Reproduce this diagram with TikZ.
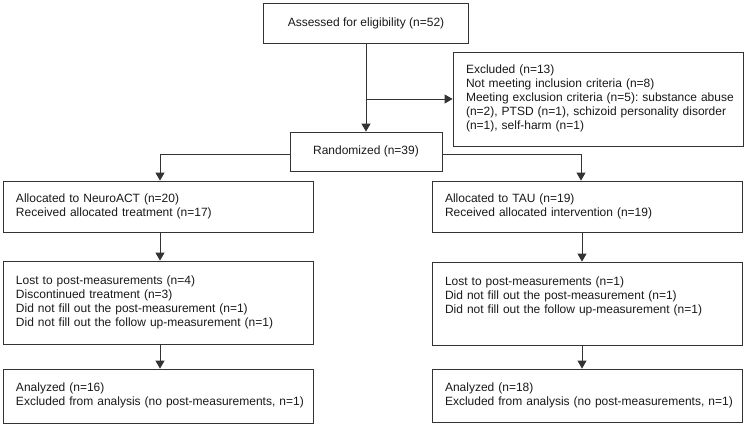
\documentclass[tikz,border=0pt]{standalone}
\usepackage{fontspec}
\setmainfont{Liberation Sans}
\usetikzlibrary{positioning, arrows.meta, calc}
\newcommand{\boxlines}[1]{\begin{tabular}{@{}l@{}}#1\end{tabular}}
\frenchspacing

\begin{document}
\begin{tikzpicture}[x=1pt, y=-1pt,
    flowbox/.style={draw=black!80, line width=0.8pt, rectangle, inner xsep=13pt, inner ysep=0pt,
      align=left, text=black!90, font=\fontsize{12}{14}\selectfont\frenchspacing},
    flowarr/.style={draw=black!80, line width=0.8pt, -{Triangle[width=9pt,length=8pt]}}]
  \useasboundingbox (0,0) rectangle (746,425);

  % enrollment
  \node[flowbox, align=center, minimum width=205pt, minimum height=40pt] (assess) at (366,23)
    {Assessed for eligibility (n=52)};
  \node[flowbox, text width=264pt, minimum height=94pt] (excl) at (598,99)
    {\boxlines{Excluded (n=13)\\
     Not meeting inclusion criteria (n=8)\\
     Meeting exclusion criteria (n=5): substance abuse\\
     (n=2), PTSD (n=1), schizoid personality disorder\\
     (n=1), self-harm (n=1)}};
  \node[flowbox, align=center, minimum width=152pt, minimum height=39pt] (rand) at (366,151.5)
    {Randomized (n=39)};

  % allocation
  \node[flowbox, text width=284pt, minimum height=51pt] (allocL) at (158,206.5)
    {\boxlines{Allocated to NeuroACT (n=20)\\
     Received allocated treatment (n=17)}};
  \node[flowbox, text width=284pt, minimum height=51pt] (allocR) at (587,206.5)
    {\boxlines{Allocated to TAU (n=19)\\
     Received allocated intervention (n=19)}};

  % follow-up
  \node[flowbox, text width=284pt, minimum height=83pt] (lostL) at (158,302.5)
    {\boxlines{Lost to post-measurements (n=4)\\
     Discontinued treatment (n=3)\\
     Did not fill out the post-measurement (n=1)\\
     Did not fill out the follow up-measurement (n=1)}};
  \node[flowbox, text width=284pt, minimum height=83pt] (lostR) at (587,303.5)
    {\boxlines{Lost to post-measurements (n=1)\\
     Did not fill out the post-measurement (n=1)\\
     Did not fill out the follow up-measurement (n=1)\\
     \mbox{}}};

  % analysis
  \node[flowbox, text width=284pt, minimum height=54pt] (anaL) at (158,396)
    {\boxlines{Analyzed (n=16)\\
     Excluded from analysis (no post-measurements, n=1)}};
  \node[flowbox, text width=284pt, minimum height=53pt] (anaR) at (587,395.5)
    {\boxlines{Analyzed (n=18)\\
     Excluded from analysis (no post-measurements, n=1)}};

  % connectors
  \draw[flowarr] (assess.south) -- (rand.north);
  \draw[flowarr] (assess.south |- excl.west) -- (excl.west);
  \draw[flowarr] ([yshift=-2.5pt]rand.west) -| ([xshift=2pt]allocL.north);
  \draw[flowarr] ([yshift=-2.5pt]rand.east) -| ([xshift=-6pt]allocR.north);
  \draw[flowarr] ([xshift=2pt]allocL.south) -- ([xshift=2pt]lostL.north);
  \draw[flowarr] ([xshift=-5pt]allocR.south) -- ([xshift=-5pt]lostR.north);
  \draw[flowarr] ([xshift=2pt]lostL.south) -- ([xshift=2pt]anaL.north);
  \draw[flowarr] ([xshift=-5pt]lostR.south) -- ([xshift=-5pt]anaR.north);
\end{tikzpicture}
\end{document}
